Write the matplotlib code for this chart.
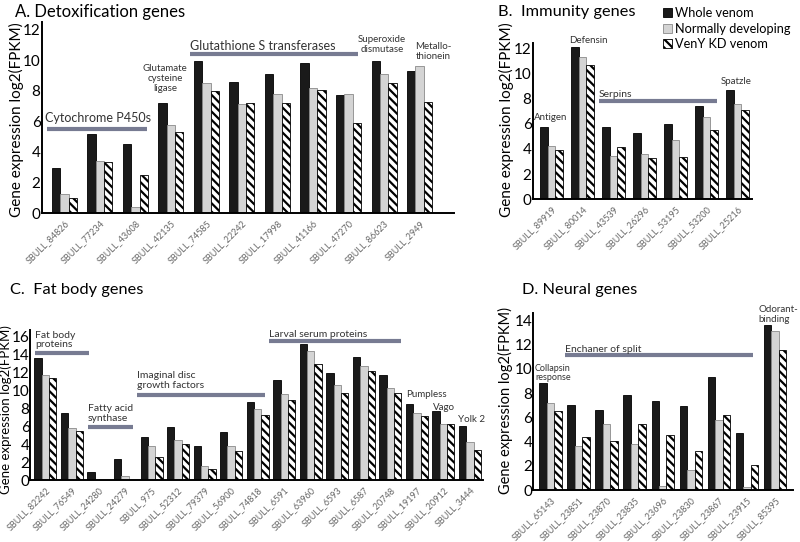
import matplotlib
matplotlib.use("Agg")
import matplotlib.pyplot as plt
import numpy as np
from matplotlib.patches import Patch

plt.rcParams['font.family'] = ['Lato', 'DejaVu Sans']
plt.rcParams['hatch.linewidth'] = 1.6

# ---------------- data ----------------
series_names = ["Whole venom", "Normally developing", "VenY KD venom"]

a_genes = ["SBULL_84826", "SBULL_77234", "SBULL_43608", "SBULL_42135", "SBULL_74585",
           "SBULL_22242", "SBULL_17998", "SBULL_41166", "SBULL_47270", "SBULL_86623", "SBULL_2949"]
a_whole = [2.98, 5.15, 4.5, 7.22, 9.96, 8.54, 9.1, 9.78, 7.7, 9.96, 9.28]
a_normal = [1.24, 3.41, 0.39, 5.76, 8.5, 7.11, 7.76, 8.15, 7.76, 9.07, 9.63]
a_veny = [0.98, 3.33, 2.48, 5.3, 7.98, 7.2, 7.2, 8.07, 5.89, 8.52, 7.23]

b_genes = ["SBULL_89919", "SBULL_80014", "SBULL_43539", "SBULL_26296", "SBULL_53195",
           "SBULL_53200", "SBULL_25216"]
b_whole = [5.77, 12.05, 5.77, 5.24, 5.99, 7.44, 8.66]
b_normal = [4.19, 11.28, 3.44, 3.63, 4.74, 6.49, 7.6]
b_veny = [3.92, 10.62, 4.13, 3.26, 3.36, 5.48, 7.05]

c_genes = ["SBULL_82242", "SBULL_76549", "SBULL_24280", "SBULL_24279", "SBULL_975",
           "SBULL_52312", "SBULL_79379", "SBULL_56900", "SBULL_74818", "SBULL_6591",
           "SBULL_63960", "SBULL_6593", "SBULL_6587", "SBULL_20748", "SBULL_19197",
           "SBULL_20912", "SBULL_3444"]
c_whole = [13.6, 7.51, 0.86, 2.31, 4.76, 5.88, 3.76, 5.32, 8.63, 11.13, 15.1, 11.86,
           13.73, 11.68, 8.44, 7.7, 6.06]
c_normal = [11.64, 5.77, 0.0, 0.45, 3.76, 4.46, 1.56, 3.76, 7.89, 9.56, 14.36, 10.6,
            12.72, 10.27, 7.44, 6.25, 4.24]
c_veny = [11.35, 5.5, 0.0, 0.0, 2.6, 4.0, 1.19, 3.2, 7.22, 8.96, 12.9, 9.7,
          12.16, 9.67, 7.1, 6.25, 3.31]

d_genes = ["SBULL_65143", "SBULL_23851", "SBULL_23870", "SBULL_23835", "SBULL_23696",
           "SBULL_23830", "SBULL_23867", "SBULL_23915", "SBULL_85395"]
d_whole = [8.84, 7.05, 6.64, 7.8, 7.38, 6.94, 9.28, 4.72, 13.59]
d_normal = [7.14, 3.62, 5.41, 3.76, 0.33, 1.62, 5.74, 0.25, 13.15]
d_veny = [6.48, 4.39, 4.06, 5.41, 4.5, 3.21, 6.15, 2.06, 11.56]

BAR_GREY = "#777b92"
TXT = "#333333"
W, H = 800, 542

fig = plt.figure(figsize=(8, 5.42), dpi=100)


def add_axes(left, right, bottom_px, top_px):
    return fig.add_axes([left / W, 1 - bottom_px / H, (right - left) / W, (bottom_px - top_px) / H])


def draw_panel(ax, genes, whole, normal, veny, bw, xlim, ylim, yticks, ypad=1):
    x = np.arange(len(genes))
    ax.bar(x - bw, whole, bw, color="#1a1a1a", edgecolor="#000000", linewidth=0.6)
    ax.bar(x, normal, bw, color="#d4d4d4", edgecolor="#8a8a8a", linewidth=0.6)
    ax.bar(x + bw, veny, bw, color="white", edgecolor="#000000", linewidth=0.6, hatch="\\\\\\\\")
    ax.set_xlim(*xlim)
    ax.set_ylim(*ylim)
    ax.set_yticks(yticks)
    ax.set_xticks(x)
    ax.set_xticklabels(genes, rotation=45, ha="right", rotation_mode="anchor",
                       fontsize=6.5, color="#666666")
    ax.tick_params(axis="both", length=0)
    ax.tick_params(axis="y", labelsize=11, pad=ypad)
    ax.tick_params(axis="x", pad=4)
    for s in ["top", "right"]:
        ax.spines[s].set_visible(False)
    for s in ["left", "bottom"]:
        ax.spines[s].set_linewidth(1.4)
    ax.patch.set_alpha(0)


def hbar(ax, x0, x1, y):
    ax.plot([x0, x1], [y, y], color=BAR_GREY, lw=3, solid_capstyle="butt", clip_on=False)


def note(ax, x, y, s, size=7, ha="left"):
    ax.text(x, y, s, fontsize=size, color=TXT, ha=ha, va="center", linespacing=1.1, clip_on=False)


# ---- Panel A ----
axA = add_axes(42, 454, 213.3, 21.7)
draw_panel(axA, a_genes, a_whole, a_normal, a_veny, 0.235, (-0.63, 10.97), (0, 12.5), range(0, 13, 2))
note(axA, -0.55, 6.2, "Cytochrome P450s", size=9)
hbar(axA, -0.49, 2.33, 5.5)
note(axA, 2.83, 8.8, "Glutamate\ncysteine\nligase", size=7, ha="center")
note(axA, 3.54, 10.9, "Glutathione S transferases", size=9)
hbar(axA, 3.54, 8.27, 10.4)
note(axA, 8.95, 11.0, "Superoxide\ndismutase", size=7, ha="center")
note(axA, 10.38, 10.55, "Metallo-\nthionein", size=7, ha="center")

# ---- Panel B ----
axB = add_axes(533, 752, 199.3, 43)
draw_panel(axB, b_genes, b_whole, b_normal, b_veny, 0.247, (-0.6, 6.47), (0, 12.4), range(0, 13, 2))
note(axB, -0.02, 6.5, "Antigen", size=7, ha="center")
note(axB, 1.2, 12.6, "Defensin", size=7, ha="center")
note(axB, 1.52, 8.35, "Serpins", size=7.5)
hbar(axB, 1.52, 5.35, 7.8)
note(axB, 5.96, 9.35, "Spatzle", size=7, ha="center")

# ---- Panel C ----
axC = add_axes(30, 483, 480, 330)
draw_panel(axC, c_genes, c_whole, c_normal, c_veny, 0.277, (-0.58, 16.49), (0, 16.7), range(0, 17, 2),
           ypad=0.3)
note(axC, -0.39, 15.6, "Fat body\nproteins", size=7.5)
hbar(axC, -0.39, 1.64, 14.17)
note(axC, 1.6, 7.4, "Fatty acid\nsynthase", size=7.5)
hbar(axC, 1.6, 3.3, 5.9)
note(axC, 3.45, 11.05, "Imaginal disc\ngrowth factors", size=7.5)
hbar(axC, 3.45, 8.26, 9.49)
note(axC, 8.41, 16.2, "Larval serum proteins", size=7.5)
hbar(axC, 8.41, 13.4, 15.5)
note(axC, 13.59, 9.5, "Pumpless", size=7)
note(axC, 14.59, 8.05, "Vago", size=7)
note(axC, 15.53, 6.7, "Yolk 2", size=7)

# ---- Panel D ----
axD = add_axes(533, 793, 490, 313)
draw_panel(axD, d_genes, d_whole, d_normal, d_veny, 0.265, (-0.62, 8.64), (0, 14.6), range(0, 15, 2),
           ypad=0.5)
note(axD, -0.55, 9.65, "Collapsin\nresponse", size=6.5)
note(axD, 0.52, 11.55, "Enchaner of split", size=7.5)
hbar(axD, 0.52, 7.22, 11.12)
note(axD, 7.4, 14.5, "Odorant-\nbinding", size=7)

# ---- titles and y labels ----
fig.text(15 / W, 1 - 12 / H, "A. Detoxification genes", fontsize=12, va="center", ha="left")
fig.text(498 / W, 1 - 12 / H, "B.  Immunity genes", fontsize=11.8, va="center", ha="left")
fig.text(10 / W, 1 - 290 / H, "C.  Fat body genes", fontsize=11.8, va="center", ha="left")
fig.text(522 / W, 1 - 290 / H, "D. Neural genes", fontsize=11.8, va="center", ha="left")

ylab = "Gene expression log2(FPKM)"
fig.text(16 / W, 1 - 120 / H, ylab, rotation=90, fontsize=11, va="center", ha="center")
fig.text(506 / W, 1 - 120 / H, ylab, rotation=90, fontsize=11, va="center", ha="center")
fig.text(6 / W, 1 - 410 / H, ylab, rotation=90, fontsize=9.5, va="center", ha="center")
fig.text(505 / W, 1 - 400 / H, ylab, rotation=90, fontsize=10.5, va="center", ha="center")

# ---- legend ----
handles = [Patch(facecolor="#1a1a1a", edgecolor="#000000", linewidth=0.6),
           Patch(facecolor="#d4d4d4", edgecolor="#8a8a8a", linewidth=0.6),
           Patch(facecolor="white", edgecolor="#000000", linewidth=0.6, hatch="\\\\\\\\")]
fig.legend(handles, series_names, loc="upper left", bbox_to_anchor=(655 / W, 1 + 1 / H),
           frameon=False, fontsize=9.2, handlelength=0.7, handleheight=0.7,
           handletextpad=0.3, labelspacing=0.3, borderpad=0.1)

fig.savefig("out.png", dpi=100)
